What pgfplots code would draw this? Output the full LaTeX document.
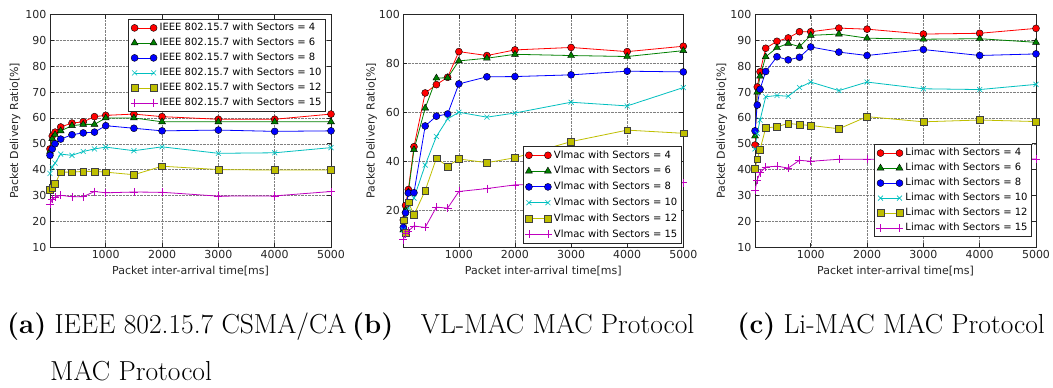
\documentclass[border=0pt]{standalone}
\usepackage{fontspec}
\usepackage{pgfplots}
\usepackage{pgfplotstable}
\pgfplotsset{compat=1.18}
\newfontfamily\dejavu{DejaVu Sans}

\definecolor{mr}{rgb}{1,0,0}
\definecolor{mg}{rgb}{0,0.5,0}
\definecolor{mb}{rgb}{0,0,1}
\definecolor{mc}{rgb}{0,0.75,0.75}
\definecolor{my}{rgb}{0.75,0.75,0}
\definecolor{mm}{rgb}{0.75,0,0.75}

% packet delivery ratio [%] against packet inter-arrival time [ms]
\pgfplotstableread{
x    s4   s6   s8   s10  s12  s15
10   48   47   45.5 38.5 32.2 26.5
50   53   52   48   41   33   28.5
100  54.5 53.5 50   42.5 34.4 29.3
200  56.5 55   51.8 46   39   30
400  58   57   53.5 45.5 39   29.5
600  58.5 57.5 54.2 47   39.3 29.5
800  60.5 57.5 54.5 48   39.3 31.5
1000 61   60   57   48.7 39   31
1500 61.5 60   56   47.3 38   31.3
2000 60.5 58.5 55   48.8 41.3 31.2
3000 59.5 58.5 55.3 46.3 40   29.7
4000 59.5 58.5 54.8 46.5 39.8 29.8
5000 61.5 58.5 55   48.5 39.8 31.5
}\ieee

\pgfplotstableread{
x    s4   s6   s8   s10  s12  s15
10   16   12   13   12   16   8
50   22   20   19   16   11   10.5
100  28.5 27.5 27.1 21   23.3 11.5
200  46   44.8 27.2 25   18.1 13.6
400  68   61.8 54.5 38.5 28.1 13
600  71.4 74.1 58.5 50.2 41.3 21.3
800  74.4 74.2 59.4 57.4 38   20.9
1000 84.9 81.1 71.7 60.1 41   27.7
1500 83.3 82.2 74.6 58.1 39.5 28.9
2000 85.6 83.8 74.7 59.8 41.5 30.4
3000 86.6 83.3 75.4 64.2 48.1 31
4000 84.9 82.9 76.9 62.7 52.8 31.2
5000 87.1 85.3 76.6 70.2 51.5 31.3
}\vlmac

\pgfplotstableread{
x    s4   s6   s8   s10  s12  s15
10   49.5 53   55   48   40.2 32
50   72   70   65   54   44   36
100  77.9 76.2 71.1 59.2 47.8 38.8
200  87   83.7 78   68.2 56.1 41
400  89.7 87.2 83.7 68.7 56.6 41.3
600  91   88.9 82.5 68.4 57.9 40.6
800  93.4 87.6 83.5 71.8 57.4 43.6
1000 93.4 92   87.5 73.9 57.1 43.2
1500 94.8 92.5 85.5 70.6 55.8 44
2000 94.4 90.9 84.2 73.9 60.5 44
3000 92.5 90.5 86.5 71.3 58.5 44
4000 92.8 90.7 84.2 71   59.2 44
5000 94.7 89.3 84.8 73   58.6 44.1
}\limac

\pgfplotsset{
  prc/.style={
    scale only axis, width=281pt, height=232.3pt, anchor=south west,
    xmin=10, xmax=5000, xtick={1000,2000,3000,4000,5000},
    tick align=inside, major tick length=4pt,
    grid=major, grid style={densely dotted, black!50, line width=0.5pt},
    axis line style={black!85, line width=0.9pt},
    tick style={black!85, line width=0.6pt},
    /pgf/number format/assume math mode=true,
    /pgf/number format/1000 sep={},
    ticklabel style={font=\dejavu\fontsize{11}{13}\selectfont, text=black!85},
    label style={font=\dejavu\fontsize{11}{13}\selectfont, text=black!85},
    xlabel={Packet inter-arrival time[ms]},
    ylabel={Packet Delivery Ratio[\%]},
    xlabel style={at={(axis description cs:0.5,-0.103)}, anchor=center},
    legend style={font=\dejavu\fontsize{10}{12}\selectfont, draw=black!85,
      line width=0.8pt, fill=white, inner xsep=2pt, inner ysep=1pt,
      row sep=0pt, cells={anchor=west},
      nodes={text height=8.3pt, text depth=2.7pt, inner ysep=2pt}},
    legend image code/.code={\draw[##1] plot coordinates {(0pt,0pt) (19pt,0pt)};},
  },
  s4/.style={color=mr, line width=0.8pt, mark=*, mark size=3.5pt,
    mark options={draw=black, fill=mr, line width=0.4pt}},
  s6/.style={color=mg, line width=0.8pt, mark=triangle*, mark size=4pt,
    mark options={draw=black, fill=mg, line width=0.4pt}},
  s8/.style={color=mb, line width=0.8pt, mark=*, mark size=3.5pt,
    mark options={draw=black, fill=mb, line width=0.4pt}},
  s10/.style={color=mc, line width=0.8pt, mark=x, mark size=3.5pt,
    mark options={draw=mc, line width=0.6pt}},
  s12/.style={color=my, line width=0.8pt, mark=square*, mark size=3.4pt,
    mark options={draw=black!75, fill=my, line width=0.4pt}},
  s15/.style={color=mm, line width=0.8pt, mark=+, mark size=4pt,
    mark options={draw=mm, line width=0.6pt}},
}

\begin{document}
\begin{tikzpicture}
\fill[white] (0,0) rectangle (1053pt,388pt);
\useasboundingbox (0,0) rectangle (1053pt,388pt);

% (a) IEEE 802.15.7
\begin{axis}[prc, at={(50pt,141pt)}, ymin=10, ymax=100, ytick={10,20,...,100},
  ylabel style={at={(axis description cs:-0.1246,0.5)}, anchor=center},
  legend style={at={(axis description cs:1,1)}, anchor=north east, xshift=-5pt, yshift=-4.3pt}]
\addplot[s4]  table[y=s4]{\ieee};  \addlegendentry{IEEE 802.15.7 with Sectors = 4}
\addplot[s6]  table[y=s6]{\ieee};  \addlegendentry{IEEE 802.15.7 with Sectors = 6}
\addplot[s8]  table[y=s8]{\ieee};  \addlegendentry{IEEE 802.15.7 with Sectors = 8}
\addplot[s10] table[y=s10]{\ieee}; \addlegendentry{IEEE 802.15.7 with Sectors = 10}
\addplot[s12] table[y=s12]{\ieee}; \addlegendentry{IEEE 802.15.7 with Sectors = 12}
\addplot[s15] table[y=s15]{\ieee}; \addlegendentry{IEEE 802.15.7 with Sectors = 15}
\end{axis}

% (b) VL-MAC
\begin{axis}[prc, at={(403.3pt,141pt)}, width=280pt, ymin=5, ymax=100, ytick={20,40,...,100},
  ylabel style={at={(axis description cs:-0.113,0.5)}, anchor=center},
  legend style={at={(axis description cs:1,0)}, anchor=south east, xshift=-1.6pt, yshift=3.4pt,
    nodes={text height=8.8pt, text depth=3pt}}]
\addplot[s4]  table[y=s4]{\vlmac};  \addlegendentry{Vlmac with Sectors = 4}
\addplot[s6]  table[y=s6]{\vlmac};  \addlegendentry{Vlmac with Sectors = 6}
\addplot[s8]  table[y=s8]{\vlmac};  \addlegendentry{Vlmac with Sectors = 8}
\addplot[s10] table[y=s10]{\vlmac}; \addlegendentry{Vlmac with Sectors = 10}
\addplot[s12] table[y=s12]{\vlmac}; \addlegendentry{Vlmac with Sectors = 12}
\addplot[s15] table[y=s15]{\vlmac}; \addlegendentry{Vlmac with Sectors = 15}
\end{axis}

% (c) Li-MAC
\begin{axis}[prc, at={(755pt,141pt)}, ymin=10, ymax=100, ytick={10,20,...,100},
  ylabel style={at={(axis description cs:-0.118,0.5)}, anchor=center},
  legend style={at={(axis description cs:1,0)}, anchor=south east, xshift=-4pt, yshift=10pt}]
\addplot[s4]  table[y=s4]{\limac};  \addlegendentry{Limac with Sectors = 4}
\addplot[s6]  table[y=s6]{\limac};  \addlegendentry{Limac with Sectors = 6}
\addplot[s8]  table[y=s8]{\limac};  \addlegendentry{Limac with Sectors = 8}
\addplot[s10] table[y=s10]{\limac}; \addlegendentry{Limac with Sectors = 10}
\addplot[s12] table[y=s12]{\limac}; \addlegendentry{Limac with Sectors = 12}
\addplot[s15] table[y=s15]{\limac}; \addlegendentry{Limac with Sectors = 15}
\end{axis}

% sub-captions
\begin{scope}[every node/.style={inner sep=0pt, font=\fontsize{27.5}{32}\selectfont}]
\node[anchor=base west] at (7pt,54pt)    {\textbf{(a)} IEEE 802.15.7 CSMA/CA};
\node[anchor=base west] at (50pt,7pt)    {MAC Protocol};
\node[anchor=base west] at (352pt,54pt)  {\textbf{(b)}\hspace{1em}VL-MAC MAC Protocol};
\node[anchor=base east] at (1045pt,54pt) {\textbf{(c)} Li-MAC MAC Protocol};
\end{scope}
\end{tikzpicture}
\end{document}
